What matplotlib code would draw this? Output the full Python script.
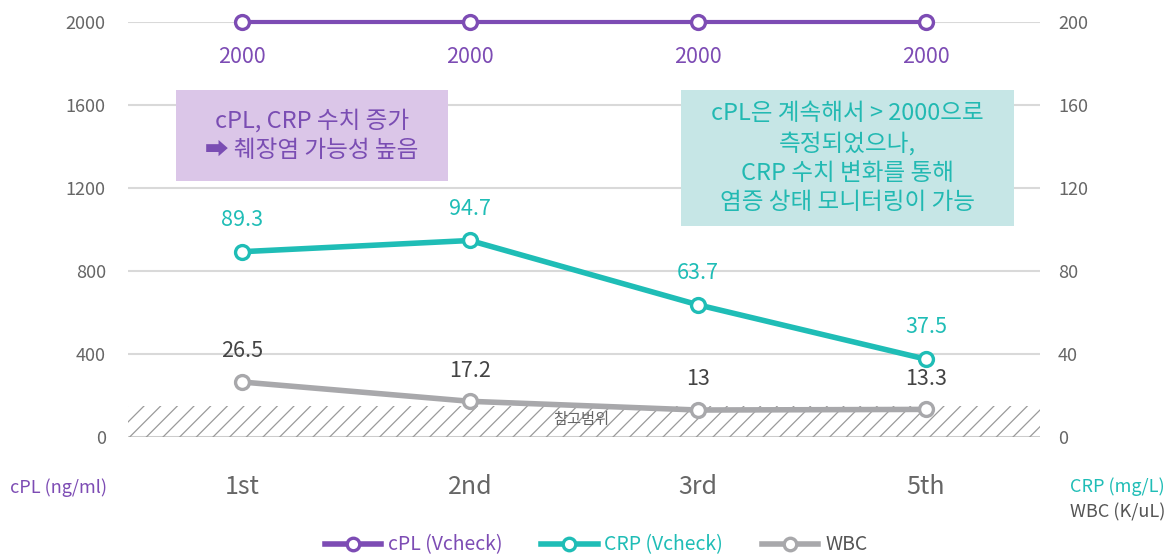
import matplotlib
matplotlib.use("Agg")
import matplotlib.pyplot as plt
from matplotlib.patches import Rectangle
from matplotlib.lines import Line2D

plt.rcParams['font.family'] = ['Noto Sans CJK KR', 'DejaVu Sans']
plt.rcParams['hatch.linewidth'] = 0.9

# data
visits = ['1st', '2nd', '3rd', '5th']
cpl = [2000, 2000, 2000, 2000]
crp = [89.3, 94.7, 63.7, 37.5]
wbc = [26.5, 17.2, 13, 13.3]
ref_range = (0, 15)
left_ticks = [0, 400, 800, 1200, 1600, 2000]
right_ticks = [0, 40, 80, 120, 160, 200]

PURPLE = '#7d4cb4'
TEAL = '#1fbdb6'
GRAY = '#a8a8ab'
DARK = '#444444'
TICK = '#666666'

fig = plt.figure(figsize=(11.73, 5.56), dpi=100)
ax = fig.add_axes([128 / 1173, 119 / 556, 912 / 1173, 415 / 556])
ax2 = ax.twinx()

x = list(range(len(visits)))
ax.set_xlim(-0.5, 3.5)
ax.set_ylim(0, 2000)
ax2.set_ylim(0, 200)

# grid
for t in left_ticks[1:]:
    ax.axhline(t, color='#d9d9d9', lw=1.5, zorder=0)
ax.axhline(0, color='#cccccc', lw=2.2, zorder=1)

# reference range hatch
ax2.fill_between([-0.5, 3.5], ref_range[0], ref_range[1], facecolor='none',
                 edgecolor='#9a9a9a', linewidth=0, hatch='//', zorder=0)
ax2.text(1.49, 8.5, '참고범위', color='#666666', fontsize=11, ha='center',
         va='center', zorder=1)

mk = dict(marker='o', markersize=10, markerfacecolor='white',
          markeredgewidth=2.4, clip_on=False)
ax.plot(x, cpl, color=PURPLE, lw=3, zorder=5, markeredgecolor=PURPLE, **mk)
ax2.plot(x, crp, color=TEAL, lw=4, zorder=5, markeredgecolor=TEAL, **mk)
ax2.plot(x, wbc, color=GRAY, lw=4, zorder=4, markeredgecolor=GRAY, **mk)

for xi, v in zip(x, cpl):
    ax.annotate(str(v), (xi, v), xytext=(0, -25), textcoords='offset points',
                ha='center', va='center', color=PURPLE, fontsize=15.5)
for xi, v in zip(x, crp):
    ax2.annotate(f'{v:g}', (xi, v), xytext=(0, 23), textcoords='offset points',
                 ha='center', va='center', color=TEAL, fontsize=15.5)
for xi, v in zip(x, wbc):
    ax2.annotate(f'{v:g}', (xi, v), xytext=(0, 22), textcoords='offset points',
                 ha='center', va='center', color=DARK, fontsize=15.5)

# axes styling
ax.set_xticks(x)
ax.set_xticklabels(visits)
ax.set_yticks(left_ticks)
ax2.set_yticks(right_ticks)
ax.tick_params(axis='x', length=0, pad=27, labelsize=18, labelcolor=TICK)
ax.tick_params(axis='y', length=0, pad=16, labelsize=13, labelcolor=TICK)
ax2.tick_params(axis='y', length=0, pad=13, labelsize=13, labelcolor=TICK)
for a in (ax, ax2):
    for s in a.spines.values():
        s.set_visible(False)
ax.set_facecolor('none')

fig.text(10 / 1173, 1 - 488 / 556, 'cPL (ng/ml)', color=PURPLE, fontsize=13,
         ha='left', va='center')
fig.text(1165 / 1173, 1 - 487 / 556, 'CRP (mg/L)', color=TEAL, fontsize=13,
         ha='right', va='center')
fig.text(1165 / 1173, 1 - 512 / 556, 'WBC (K/uL)', color='#555555', fontsize=13,
         ha='right', va='center')

# note boxes
def note(x0, y0, x1, y1, fc, tc, txt):
    fig.patches.append(Rectangle((x0 / 1173, 1 - y1 / 556), (x1 - x0) / 1173,
                                 (y1 - y0) / 556, transform=fig.transFigure,
                                 facecolor=fc, edgecolor='none', zorder=6))
    fig.text((x0 + x1) / 2 / 1173, 1 - (y0 + y1) / 2 / 556, txt, color=tc,
             fontsize=17, ha='center', va='center', linespacing=1.35, zorder=7)

note(176, 90, 448, 181, '#dbc6e8', '#7a4db3', 'cPL, CRP 수치 증가\n➡ 췌장염 가능성 높음')
note(681, 90, 1014, 226, '#c6e6e6', '#22b9b2',
     'cPL은 계속해서 > 2000으로\n측정되었으나,\nCRP 수치 변화를 통해\n염증 상태 모니터링이 가능')

# legend
handles = [Line2D([], [], color=c, lw=4, marker='o', markersize=9,
                  markerfacecolor='white', markeredgecolor=c, markeredgewidth=2.4)
           for c in (PURPLE, TEAL, GRAY)]
leg = fig.legend(handles, ['cPL (Vcheck)', 'CRP (Vcheck)', 'WBC'], loc='center',
                 bbox_to_anchor=(596 / 1173, 1 - 545 / 556), ncol=3, frameon=False,
                 fontsize=14, handlelength=2.9, columnspacing=2.0, handletextpad=0.35)
for t, c in zip(leg.get_texts(), (PURPLE, TEAL, '#555555')):
    t.set_color(c)

fig.savefig('out.png', dpi=100)
